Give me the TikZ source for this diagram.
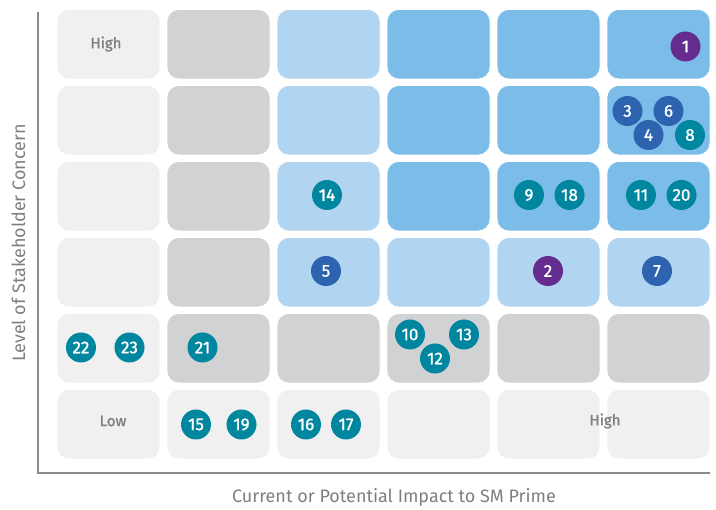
\documentclass[tikz,border=0pt]{standalone}
\usepackage{fontspec}
\setmainfont{Fira Sans}
\newfontfamily\dotfont[FakeBold=1.2]{Fira Sans}
\definecolor{cellpale}{HTML}{F0F0F0}
\definecolor{cellgrey}{HTML}{D1D2D4}
\definecolor{celllight}{HTML}{B1D4F0}
\definecolor{cellblue}{HTML}{7BBCE8}
\definecolor{dotteal}{HTML}{00869F}
\definecolor{dotblue}{HTML}{2D63AF}
\definecolor{dotpurple}{HTML}{652C90}
\definecolor{axisgrey}{HTML}{8A8A8A}
\definecolor{textgrey}{HTML}{7F7F7F}

\begin{document}
\begin{tikzpicture}[x=1pt, y=-1pt,
                    cell/.style={rounded corners=12pt, minimum width=103pt, minimum height=69.5pt, inner sep=0pt, draw=white, line width=0.6pt},
                    dot/.style={circle, minimum size=30pt, inner sep=0pt, text=white, font=\dotfont\fontsize{17}{17}\selectfont},
                    corner/.style={text=textgrey, font=\dotfont\fontsize{15}{15}\selectfont},
                    axislabel/.style={text=textgrey, font=\fontsize{18}{18}\selectfont}]
  \useasboundingbox (0,0) rectangle (716,510);
  % grid of cells, one row at a time
  \foreach \r/\colours in {0/{cellpale,cellgrey,celllight,cellblue,cellblue,cellblue},
                           1/{cellpale,cellgrey,celllight,cellblue,cellblue,cellblue},
                           2/{cellpale,cellgrey,celllight,cellblue,cellblue,cellblue},
                           3/{cellpale,cellgrey,celllight,celllight,celllight,celllight},
                           4/{cellpale,cellgrey,cellgrey,cellgrey,cellgrey,cellgrey},
                           5/{cellpale,cellpale,cellpale,cellpale,cellpale,cellpale}}
    \foreach \colour [count=\c from 0] in \colours
      \node[cell, fill=\colour] (cell-\r-\c) at (108.5+110*\c, 44.25+76*\r) {};

  % axes
  \coordinate (ytop) at (38,12);
  \coordinate (origin) at (38,473);
  \coordinate (xend) at (710,473);
  \draw[axisgrey, line width=1.4pt] (ytop) -- (origin) -- (xend);

  \node[corner] (high-y) at (106,44) {High};
  \node[corner] (low) at (113,421) {Low};
  \node[corner] (high-x) at (605,421) {High};

  \node[axislabel, rotate=90] (ylabel) at (18.5,243) {Level of Stakeholder Concern};
  \node[axislabel] (xlabel) at (394,497) {Current or Potential Impact to SM Prime};

  % issues
  \node[dot, fill=dotpurple] (i1) at (685.5,46.5) {1};
  \node[dot, fill=dotblue] (i3) at (627.5,111) {3};
  \node[dot, fill=dotblue] (i6) at (668.5,111) {6};
  \node[dot, fill=dotblue] (i4) at (648.5,135) {4};
  \node[dot, fill=dotteal] (i8) at (690,135) {8};
  \node[dot, fill=dotteal] (i14) at (327,195) {14};
  \node[dot, fill=dotteal] (i9) at (529,195) {9};
  \node[dot, fill=dotteal] (i18) at (569.5,195) {18};
  \node[dot, fill=dotteal] (i11) at (641,195) {11};
  \node[dot, fill=dotteal] (i20) at (681.5,195) {20};
  \node[dot, fill=dotblue] (i5) at (326,271) {5};
  \node[dot, fill=dotpurple] (i2) at (548,271) {2};
  \node[dot, fill=dotblue] (i7) at (657,271) {7};
  \node[dot, fill=dotteal] (i22) at (81,347.5) {22};
  \node[dot, fill=dotteal] (i23) at (129.5,347.5) {23};
  \node[dot, fill=dotteal] (i21) at (202.5,347.5) {21};
  \node[dot, fill=dotteal] (i10) at (410,334.5) {10};
  \node[dot, fill=dotteal] (i13) at (464,334.5) {13};
  \node[dot, fill=dotteal] (i12) at (435,358.5) {12};
  \node[dot, fill=dotteal] (i15) at (196,424.5) {15};
  \node[dot, fill=dotteal] (i19) at (241.5,424.5) {19};
  \node[dot, fill=dotteal] (i16) at (306,424.5) {16};
  \node[dot, fill=dotteal] (i17) at (346,424.5) {17};
\end{tikzpicture}
\end{document}
